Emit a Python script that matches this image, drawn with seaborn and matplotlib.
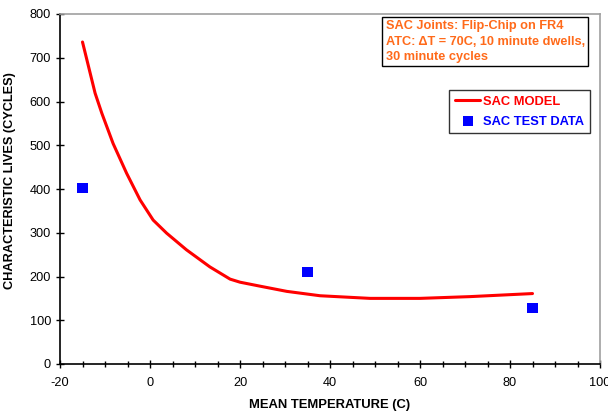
import matplotlib
matplotlib.use("Agg")
import matplotlib.pyplot as plt
import seaborn as sns
import pandas as pd

model_temp = [-15, -12.2, -10.7, -8.2, -5.2, -2.2, 0.7, 3.7, 8.1, 13.3, 17.8, 20, 24.4, 30.4, 37.8, 48.9, 60, 71.1, 85]
model_life = [736, 619, 573, 504, 436, 375, 329, 299, 261, 222, 194, 187, 178, 166, 156, 150, 150, 154, 161]
test_temp = [-15, 35, 85]
test_life = [403, 211, 127]

sns.set_theme(style="white")
plt.rcParams['font.family'] = ['Liberation Sans', 'DejaVu Sans']
plt.rcParams['axes.unicode_minus'] = False

fig = plt.figure(figsize=(6.08, 4.13), dpi=100)
ax = fig.add_axes([60/608, 49/413, 540/608, 350/413])

model_df = pd.DataFrame({"t": model_temp, "n": model_life})
test_df = pd.DataFrame({"t": test_temp, "n": test_life})
sns.lineplot(data=model_df, x="t", y="n", ax=ax, color="#ff0000", linewidth=2.2, label="SAC MODEL")
sns.scatterplot(data=test_df, x="t", y="n", ax=ax, color="#0000ff", marker="s", s=52, edgecolor="none", label="SAC TEST DATA")

ax.set_xlim(-20, 100)
ax.set_ylim(0, 800)
ax.set_xticks(range(-20, 101, 20))
ax.set_xticks(range(-20, 101, 5), minor=True)
ax.set_yticks(range(0, 801, 100))
ax.tick_params(axis="both", which="major", direction="inout", length=6, width=1, color="black", labelsize=9.2, bottom=True, left=True)
ax.tick_params(axis="x", which="major", pad=6)
ax.tick_params(axis="x", which="minor", direction="inout", length=4, width=1, color="black", bottom=True)
for lbl in ax.get_xticklabels() + ax.get_yticklabels():
    lbl.set_color("black")
ax.set_xlabel("MEAN TEMPERATURE (C)", fontsize=9.4, fontweight="bold", color="black")
ax.set_ylabel("CHARACTERISTIC LIVES (CYCLES)", fontsize=9.2, fontweight="bold", color="black")
ax.xaxis.set_label_coords(0.5, -0.1)
ax.yaxis.set_label_coords(-0.0815, 0.523)

for s in ["left", "bottom"]:
    ax.spines[s].set_color("black")
    ax.spines[s].set_linewidth(1.2)
for s in ["top", "right"]:
    ax.spines[s].set_color("#a0a0a0")
    ax.spines[s].set_linewidth(1.2)

ax.text(0.603, 0.982, "SAC Joints: Flip-Chip on FR4\nATC: ΔT = 70C, 10 minute dwells,\n30 minute cycles",
        transform=ax.transAxes, ha="left", va="top", fontsize=9.2, fontweight="bold", color="#ff6a1a",
        linespacing=1.38,
        bbox=dict(boxstyle="square,pad=0.25", facecolor="white", edgecolor="black", linewidth=1))

leg = ax.legend(loc="upper right", bbox_to_anchor=(0.981, 0.783), frameon=True, fancybox=False,
                edgecolor="black", fontsize=9.3, handlelength=1.95, borderpad=0.45, handletextpad=0.2,
                labelspacing=0.6, borderaxespad=0)
leg.get_frame().set_linewidth(1)
for txt, c in zip(leg.get_texts(), ["#ff0000", "#0000ff"]):
    txt.set_color(c)
    txt.set_fontweight("bold")

fig.savefig("out.png", dpi=100)
